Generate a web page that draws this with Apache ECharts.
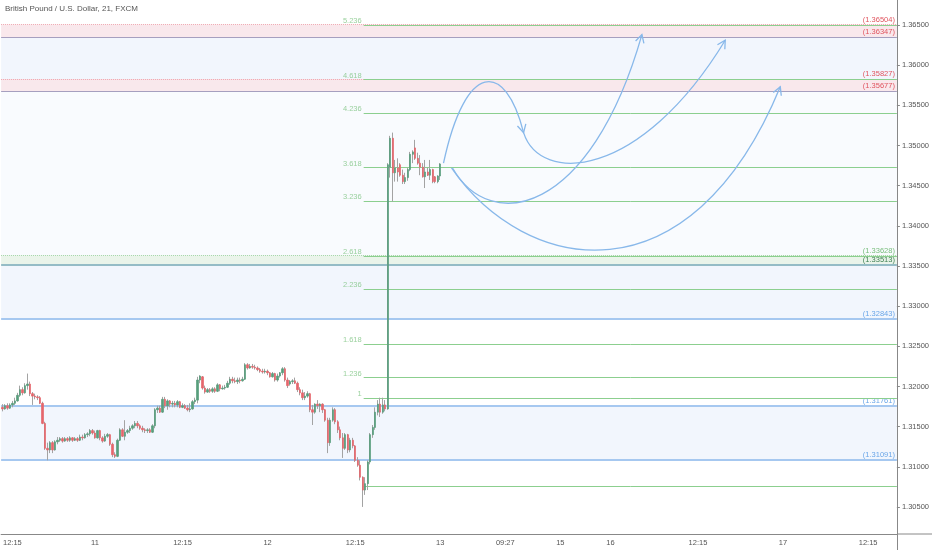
<!DOCTYPE html>
<html><head><meta charset="utf-8">
<script src="https://cdn.jsdelivr.net/npm/echarts@6/dist/echarts.min.js"></script>
<style>html,body{margin:0;padding:0;background:#fff}#c{width:932px;height:550px}</style>
</head><body><div id="c"></div>
<script>
// ---------- data ----------
const open = [1.3174,1.3172,1.3176,1.3173,1.3177,1.3179,1.3182,1.3189,1.3196,1.3192,
1.3201,1.3203,1.3191,1.3188,1.3187,1.3186,1.3179,1.3154,1.3123,1.3121,
1.3130,1.3121,1.3131,1.3133,1.3135,1.3132,1.3135,1.3133,1.3136,1.3133,
1.3135,1.3133,1.3137,1.3136,1.3140,1.3141,1.3145,1.3142,1.3136,1.3145,
1.3136,1.3132,1.3138,1.3140,1.3128,1.3115,1.3113,1.3133,1.3146,1.3138,
1.3143,1.3145,1.3148,1.3151,1.3154,1.3151,1.3148,1.3146,1.3145,1.3146,
1.3143,1.3151,1.3171,1.3173,1.3168,1.3184,1.3176,1.3182,1.3178,1.3179,
1.3177,1.3181,1.3174,1.3176,1.3173,1.3171,1.3172,1.3181,1.3183,1.3208,
1.3212,1.3198,1.3193,1.3196,1.3194,1.3197,1.3194,1.3202,1.3197,1.3198,
1.3199,1.3204,1.3209,1.3207,1.3206,1.3208,1.3207,1.3209,1.3227,1.3223,
1.3225,1.3224,1.3223,1.3221,1.3219,1.3218,1.3219,1.3217,1.3212,1.3216,
1.3208,1.3213,1.3217,1.3222,1.3208,1.3203,1.3206,1.3207,1.3204,1.3196,
1.3192,1.3186,1.3188,1.3191,1.3171,1.3168,1.3178,1.3176,1.3178,1.3171,
1.3158,1.3130,1.3158,1.3171,1.3156,1.3146,1.3136,1.3123,1.3140,1.3121,
1.3133,1.3126,1.3108,1.3102,1.3087,1.3071,1.3079,1.3106,1.3140,1.3149,
1.3168,1.3178,1.3168,1.3177,1.3172,1.3473,1.3509,1.3466,1.3472,1.3476,
1.3463,1.3455,1.3460,1.3470,1.3489,1.3497,1.3484,1.3478,1.3473,1.3461,
1.3467,1.3463,1.3470,1.3461,1.3455,1.3462];
const close = [1.3172,1.3176,1.3173,1.3177,1.3179,1.3182,1.3189,1.3196,1.3192,1.3201,
1.3203,1.3191,1.3188,1.3187,1.3186,1.3179,1.3154,1.3123,1.3121,1.3130,
1.3121,1.3131,1.3133,1.3135,1.3132,1.3135,1.3133,1.3136,1.3133,1.3135,
1.3133,1.3137,1.3136,1.3140,1.3141,1.3145,1.3142,1.3136,1.3145,1.3136,
1.3132,1.3138,1.3140,1.3128,1.3115,1.3113,1.3133,1.3146,1.3138,1.3143,
1.3145,1.3148,1.3151,1.3154,1.3151,1.3148,1.3146,1.3145,1.3146,1.3143,
1.3151,1.3171,1.3173,1.3168,1.3184,1.3176,1.3182,1.3178,1.3179,1.3177,
1.3181,1.3174,1.3176,1.3173,1.3171,1.3172,1.3181,1.3183,1.3208,1.3213,
1.3198,1.3193,1.3196,1.3194,1.3197,1.3194,1.3202,1.3197,1.3198,1.3199,
1.3204,1.3209,1.3207,1.3206,1.3208,1.3207,1.3209,1.3227,1.3223,1.3225,
1.3224,1.3223,1.3221,1.3219,1.3218,1.3219,1.3217,1.3212,1.3216,1.3208,
1.3213,1.3217,1.3222,1.3208,1.3201,1.3206,1.3207,1.3204,1.3196,1.3192,
1.3186,1.3188,1.3191,1.3171,1.3168,1.3178,1.3176,1.3178,1.3171,1.3158,
1.3130,1.3158,1.3171,1.3156,1.3146,1.3136,1.3123,1.3140,1.3121,1.3133,
1.3126,1.3108,1.3102,1.3087,1.3071,1.3079,1.3106,1.3140,1.3149,1.3168,
1.3178,1.3168,1.3177,1.3172,1.3476,1.3509,1.3466,1.3472,1.3467,1.3463,
1.3455,1.3460,1.3470,1.3489,1.3492,1.3484,1.3478,1.3473,1.3461,1.3467,
1.3463,1.3470,1.3455,1.3455,1.3462,1.3477];
const low = [1.3169,1.3171,1.3171,1.3172,1.3174,1.3177,1.3181,1.3187,1.3189,1.3191,
1.3196,1.3188,1.3177,1.3184,1.3183,1.3178,1.3153,1.3121,1.3108,1.3117,
1.3117,1.3120,1.3128,1.3131,1.3130,1.3131,1.3131,1.3131,1.3131,1.3132,
1.3131,1.3132,1.3133,1.3135,1.3137,1.3138,1.3140,1.3135,1.3135,1.3133,
1.3130,1.3131,1.3136,1.3126,1.3112,1.3111,1.3112,1.3132,1.3137,1.3133,
1.3141,1.3142,1.3146,1.3148,1.3148,1.3146,1.3143,1.3142,1.3142,1.3142,
1.3142,1.3148,1.3167,1.3167,1.3167,1.3173,1.3171,1.3174,1.3174,1.3174,
1.3174,1.3173,1.3173,1.3172,1.3169,1.3168,1.3171,1.3178,1.3179,1.3204,
1.3196,1.3191,1.3192,1.3192,1.3192,1.3192,1.3193,1.3194,1.3196,1.3196,
1.3198,1.3202,1.3204,1.3204,1.3203,1.3204,1.3206,1.3208,1.3221,1.3222,
1.3222,1.3221,1.3219,1.3217,1.3216,1.3216,1.3214,1.3211,1.3211,1.3206,
1.3206,1.3211,1.3214,1.3206,1.3198,1.3201,1.3203,1.3203,1.3193,1.3189,
1.3183,1.3183,1.3186,1.3168,1.3152,1.3166,1.3172,1.3168,1.3167,1.3156,
1.3117,1.3126,1.3156,1.3153,1.3142,1.3133,1.3111,1.3121,1.3117,1.3118,
1.3123,1.3106,1.3100,1.3083,1.3050,1.3065,1.3071,1.3103,1.3136,1.3146,
1.3164,1.3162,1.3166,1.3169,1.3171,1.3460,1.3430,1.3455,1.3455,1.3461,
1.3452,1.3452,1.3456,1.3468,1.3478,1.3482,1.3476,1.3463,1.3460,1.3447,
1.3462,1.3457,1.3453,1.3453,1.3453,1.3457];
const high = [1.3178,1.3178,1.3179,1.3179,1.3182,1.3186,1.3192,1.3201,1.3199,1.3204,
1.3216,1.3206,1.3193,1.3191,1.3189,1.3188,1.3181,1.3156,1.3130,1.3132,
1.3132,1.3133,1.3137,1.3137,1.3137,1.3137,1.3137,1.3138,1.3137,1.3137,
1.3137,1.3140,1.3140,1.3142,1.3143,1.3147,1.3147,1.3145,1.3146,1.3146,
1.3138,1.3141,1.3142,1.3141,1.3130,1.3118,1.3135,1.3148,1.3148,1.3158,
1.3147,1.3151,1.3153,1.3157,1.3157,1.3153,1.3151,1.3148,1.3148,1.3148,
1.3153,1.3173,1.3176,1.3176,1.3187,1.3187,1.3184,1.3183,1.3182,1.3182,
1.3183,1.3182,1.3179,1.3178,1.3177,1.3179,1.3183,1.3186,1.3212,1.3214,
1.3213,1.3201,1.3198,1.3198,1.3199,1.3199,1.3204,1.3203,1.3201,1.3202,
1.3207,1.3212,1.3212,1.3211,1.3211,1.3211,1.3212,1.3229,1.3229,1.3228,
1.3228,1.3227,1.3225,1.3223,1.3222,1.3222,1.3221,1.3218,1.3218,1.3217,
1.3216,1.3218,1.3224,1.3224,1.3211,1.3208,1.3209,1.3211,1.3206,1.3199,
1.3196,1.3193,1.3194,1.3192,1.3177,1.3179,1.3183,1.3179,1.3179,1.3172,
1.3161,1.3161,1.3174,1.3173,1.3158,1.3150,1.3142,1.3142,1.3141,1.3136,
1.3136,1.3127,1.3112,1.3108,1.3088,1.3087,1.3108,1.3142,1.3152,1.3174,
1.3183,1.3186,1.3186,1.3183,1.3478,1.3512,1.3516,1.3482,1.3484,1.3478,
1.3470,1.3466,1.3472,1.3492,1.3494,1.3507,1.3491,1.3488,1.3478,1.3482,
1.3472,1.3482,1.3471,1.3462,1.3463,1.3478];

// time axis: 21-minute slots (history + projected area)
const slotCount = 358;
const tickIndex = [4, 37, 72, 106, 141, 175, 201, 223, 243, 278, 312, 346];
const tickText = ['12:15', '11', '12:15', '12', '12:15', '13', '09:27', '15', '16', '12:15', '17', '12:15'];

// visible price range of the pane
const priceMin = 1.30163;
const priceMax = 1.36811;

// horizontal levels
const levelValues = [1.36504, 1.36347, 1.35827, 1.35677, 1.33628, 1.33513, 1.32843, 1.31761, 1.31091];
const zoneBounds = [[1.36504, 1.36347], [1.36347, 1.35827], [1.35827, 1.35677], [1.35677, 1.33628],
                    [1.33628, 1.33513], [1.33513, 1.32843], [1.31761, 1.31091]];

// Fibonacci extension
const fibLevels = [0, 1, 1.236, 1.618, 2.236, 2.618, 3.236, 3.618, 4.236, 4.618, 5.236];
const fibPrice0 = 1.30755;
const fibPrice1 = 1.31852;
const fibStartSlot = 144.4;

// projected path arrows (cubic control points: [slot, price])
const arrowPaths = [
  [[176.3, 1.3478], [185.1, 1.3606], [201.0, 1.3606], [208.3, 1.3516]],
  [[208.3, 1.3516], [215.0, 1.3451], [254.9, 1.3457], [288.9, 1.3631]],
  [[179.9, 1.3472], [195.1, 1.3389], [235.0, 1.3413], [255.6, 1.3638]],
  [[179.5, 1.3472], [209.0, 1.3339], [274.9, 1.3301], [310.9, 1.3573]]
];

// ---------- styles ----------
const levelStyle = [
  {line: '#eea3ad', type: 'dotted', w: 1, text: '#e0555f'},
  {line: '#a69fbf', type: 'solid', w: 1, text: '#e0555f'},
  {line: '#eea3ad', type: 'dotted', w: 1, text: '#e0555f'},
  {line: '#a69fbf', type: 'solid', w: 1, text: '#e0555f'},
  {line: '#9fd3a1', type: 'dotted', w: 1, text: '#78bd7c'},
  {line: '#95bcc6', type: 'solid', w: 2, text: '#3d7f52'},
  {line: '#a6c8f0', type: 'solid', w: 2, text: '#6aa6e8'},
  {line: '#a6c8f0', type: 'solid', w: 2, text: '#6aa6e8'},
  {line: '#a6c8f0', type: 'solid', w: 2, text: '#6aa6e8'}
];
const zoneColors = ['#f9e8ec', '#f2f6fd', '#f9e8ec', '#f9fbfe', '#eaf4ea', '#f2f6fd', '#f2f6fd'];
const upColor = '#589e7c', downColor = '#e5666c', wickColor = '#a3a3a3';
const fibLineColor = '#8ccf8f', fibTextColor = '#7fc483';
const arrowColor = '#88b8ea';
const axisColor = '#888';
const FONT = 'Liberation Sans';

const categories = Array.from({length: slotCount}, (_, i) => String(i));
const labelFor = i => { const k = tickIndex.indexOf(i); return k >= 0 ? tickText[k] : ''; };
const fibPrice = l => fibPrice0 + l * (fibPrice1 - fibPrice0);

const chart = echarts.init(document.getElementById('c'), null, {renderer: 'canvas'});

function renderArrow(params, api) {
  const pts = arrowPaths[params.dataIndex].map(p => api.coord(p));
  const [p0, p1, p2, p3] = pts;
  const dx = p3[0] - p2[0], dy = p3[1] - p2[1];
  const len = Math.hypot(dx, dy) || 1;
  const ux = dx / len, uy = dy / len;
  const L = 9, a = 0.5;
  const arm = ang => [p3[0] - L * (ux * Math.cos(ang) - uy * Math.sin(ang)),
                      p3[1] - L * (ux * Math.sin(ang) + uy * Math.cos(ang))];
  const st = {stroke: arrowColor, fill: null, lineWidth: 1.3};
  return {type: 'group', children: [
    {type: 'bezierCurve', shape: {x1: p0[0], y1: p0[1], cpx1: p1[0], cpy1: p1[1], cpx2: p2[0], cpy2: p2[1], x2: p3[0], y2: p3[1]}, style: st},
    {type: 'polyline', shape: {points: [arm(a), p3, arm(-a)]}, style: st}
  ]};
}

const option = {
  animation: false,
  backgroundColor: '#ffffff',
  textStyle: {fontFamily: FONT},
  title: {
    text: 'British Pound / U.S. Dollar, 21, FXCM', left: 5, top: 5, padding: 0,
    textStyle: {fontSize: 8, fontWeight: 'normal', color: '#555', fontFamily: FONT}
  },
  grid: {left: 0, right: 35, top: 0, bottom: 16, containLabel: false},
  xAxis: [{
    type: 'category', data: categories, boundaryGap: true,
    axisLine: {onZero: false, lineStyle: {color: axisColor, width: 1}},
    axisTick: {interval: (i) => labelFor(i) !== '', alignWithLabel: true, length: 3, lineStyle: {color: axisColor}},
    axisLabel: {interval: (i) => labelFor(i) !== '', formatter: (v, i) => labelFor(Number(v)),
                fontSize: 7.5, color: '#555', margin: 5, fontFamily: FONT},
    splitLine: {show: false}
  }, {
    type: 'value', min: -0.5, max: slotCount - 0.5, show: false, axisLine: {onZero: false}
  }],
  yAxis: [{
    type: 'value', position: 'right', min: priceMin, max: priceMax, splitNumber: 13,
    axisLine: {show: true, onZero: false, lineStyle: {color: axisColor}},
    axisTick: {show: true, length: 3, lineStyle: {color: axisColor}},
    axisLabel: {fontSize: 7.5, color: '#555', margin: 5, fontFamily: FONT,
                formatter: v => v.toFixed(5), showMinLabel: false, showMaxLabel: false},
    splitLine: {show: false}
  }],
  graphic: [
    {type: 'line', silent: true, shape: {x1: 897, y1: 534, x2: 932, y2: 534}, style: {stroke: axisColor, lineWidth: 1}},
    {type: 'line', silent: true, shape: {x1: 897.5, y1: 534, x2: 897.5, y2: 550}, style: {stroke: axisColor, lineWidth: 1}}
  ],
  series: [
    {
      name: 'zones', type: 'line', xAxisIndex: 1, data: [], z: 1, silent: true,
      markArea: {silent: true, z: 0, data: zoneBounds.map((b, k) => [
        {yAxis: b[0], itemStyle: {color: zoneColors[k], opacity: 1}}, {yAxis: b[1]}])}
    },
    {
      name: 'levels', type: 'line', xAxisIndex: 1, data: [], z: 2, silent: true,
      markLine: {silent: true, z: 3, symbol: ['none', 'none'], precision: 6,
        data: levelValues.map((v, k) => ({
          yAxis: v,
          lineStyle: {color: levelStyle[k].line, type: levelStyle[k].type, width: levelStyle[k].w},
          label: {show: true, position: 'insideEndTop', distance: [2, 1], formatter: '(' + v.toFixed(5) + ')',
                  color: levelStyle[k].text, fontSize: 7.5, fontFamily: FONT}
        }))}
    },
    {
      name: 'fib', type: 'line', xAxisIndex: 1, data: [], z: 2, silent: true,
      markLine: {silent: true, z: 4, symbol: ['none', 'none'], precision: 6,
        lineStyle: {color: fibLineColor, type: 'solid', width: 1, opacity: 1},
        label: {show: false},
        data: fibLevels.map(l => [{coord: [fibStartSlot, fibPrice(l)]}, {coord: [slotCount - 0.5, fibPrice(l)]}])}
    },
    {
      name: 'fibLabels', type: 'scatter', xAxisIndex: 1, symbolSize: 0, z: 3, silent: true,
      data: fibLevels.filter(l => l > 0).map(l => [fibStartSlot, fibPrice(l), l]),
      label: {show: true, position: 'left', distance: 2, offset: [0, -4], fontSize: 7.5, color: fibTextColor,
              fontFamily: FONT, formatter: p => String(p.value[2])}
    },
    {
      name: 'wicks', type: 'candlestick', xAxisIndex: 0, z: 5, barWidth: 1,
      data: open.map((o, i) => [o, close[i], low[i], high[i]]),
      itemStyle: {color: 'transparent', color0: 'transparent', borderColor: wickColor, borderColor0: wickColor, borderWidth: 1}
    },
    {
      name: 'bodies', type: 'candlestick', xAxisIndex: 0, z: 6, barWidth: 1.8,
      data: open.map((o, i) => [o, close[i], Math.min(o, close[i]), Math.max(o, close[i])]),
      itemStyle: {color: upColor, color0: downColor, borderColor: upColor, borderColor0: downColor, borderWidth: 0.7}
    },
    {
      name: 'arrows', type: 'custom', xAxisIndex: 1, z: 7, silent: true,
      data: arrowPaths.map(p => [p[0][0], p[0][1]]),
      encode: {x: 0, y: 1},
      renderItem: renderArrow
    }
  ]
};
chart.setOption(option);
</script>
</body></html>
